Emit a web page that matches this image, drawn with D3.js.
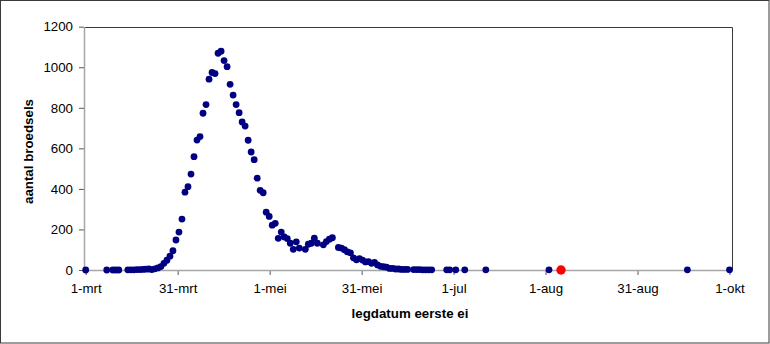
<!DOCTYPE html>
<html>
<head>
<meta charset="utf-8">
<script src="https://cdn.jsdelivr.net/npm/d3@7/dist/d3.min.js"></script>
<style>
  html, body { margin: 0; padding: 0; background: #fff; }
  svg { display: block; }
  text { font-family: "Liberation Sans", Arial, sans-serif; fill: #000; }
</style>
</head>
<body>
<svg id="chart" width="770" height="344"></svg>
<script>
// Days counted from 1 March (day 0) and the number of clutches started that day
const dagen = [0, 7, 9, 10, 11, 14, 15, 16, 17, 18, 19, 20, 21, 22, 23, 24, 25, 26, 27, 28,
  29, 30, 31, 32, 33, 34, 35, 36, 37, 38, 39, 40, 41, 42, 43, 44, 45, 46, 47, 48,
  49, 50, 51, 52, 53, 54, 55, 56, 57, 58, 59, 60, 61, 62, 63, 64, 65, 66, 67, 68,
  69, 70, 71, 73, 74, 75, 76, 77, 79, 80, 81, 82, 84, 85, 86, 87, 88, 89, 90, 91,
  92, 93, 94, 95, 96, 97, 98, 99, 100, 101, 102, 103, 104, 105, 106, 107, 109, 110, 111, 112,
  113, 114, 115, 120, 121, 123, 126, 133, 154, 200, 214];
const broedsels = [0, 0, 0, 0, 0, 1, 1, 1, 2, 2, 3, 4, 5, 2, 6, 10, 17, 33, 48, 68,
  95, 148, 187, 251, 384, 411, 473, 559, 641, 658, 773, 816, 941, 974, 969, 1069, 1079, 1033, 1003, 916,
  863, 816, 776, 730, 710, 640, 582, 544, 453, 393, 381, 285, 264, 221, 230, 156, 187, 163, 155, 132,
  102, 139, 108, 102, 127, 132, 157, 132, 124, 140, 152, 159, 111, 108, 100, 89, 84, 60, 50, 56,
  49, 40, 41, 33, 38, 25, 18, 16, 14, 8, 8, 5, 5, 3, 3, 3, 2, 2, 2, 1,
  1, 1, 1, 1, 1, 1, 1, 1, 1, 1, 1];

// Highlighted clutch
const markeerDag = [158];
const markeerWaarde = [0];

// Axis ticks
const xTickLabels = ["1-mrt", "31-mrt", "1-mei", "31-mei", "1-jul", "1-aug", "31-aug", "1-okt"];
const xEindDag = 214;
const yTicks = [0, 200, 400, 600, 800, 1000, 1200];

const svg = d3.select("#chart");
const W = 770, H = 344;
const plot = { left: 84, right: 732.5, top: 27, bottom: 270 };

const x = d3.scaleLinear().domain([0, xEindDag]).range([85.7, 729.5]);
const y = d3.scaleLinear().domain([0, 1200]).range([plot.bottom, 26.7]);
const xTickDays = xTickLabels.map((_, i) => i * xEindDag / (xTickLabels.length - 1));

// Outer chart border
svg.append("rect")
  .attr("x", 0.5).attr("y", 0.5)
  .attr("width", W - 1.5).attr("height", H - 1.5)
  .attr("fill", "#fff").attr("stroke", "#3a3a3a").attr("stroke-width", 1);

// Plot area frame (top and right)
svg.append("path")
  .attr("d", `M${plot.left},${plot.top + 0.5}H${plot.right}V${plot.bottom}`)
  .attr("fill", "none").attr("stroke", "#3a3a3a").attr("stroke-width", 1);

// Y axis
const yAxis = svg.append("g")
  .attr("transform", `translate(${plot.left},0)`)
  .call(d3.axisLeft(y).tickValues(yTicks).tickSize(5).tickPadding(6).tickFormat(d3.format("d")));
yAxis.select(".domain").remove();
yAxis.selectAll(".tick line").attr("stroke", "#555");
yAxis.selectAll(".tick text")
  .style("font-family", "'Liberation Sans', Arial, sans-serif")
  .style("font-size", "13.3px").attr("fill", "#000");

// X axis
const xAxis = svg.append("g")
  .attr("transform", `translate(0,${plot.bottom})`)
  .call(d3.axisBottom(x).tickValues(xTickDays).tickSize(5).tickPadding(9)
    .tickFormat((d, i) => xTickLabels[i]));
xAxis.select(".domain").remove();
xAxis.selectAll(".tick line").attr("stroke", "#555");
xAxis.selectAll(".tick text")
  .style("font-family", "'Liberation Sans', Arial, sans-serif")
  .style("font-size", "13.3px").attr("fill", "#000");

// Axis lines
svg.append("line")
  .attr("x1", plot.left + 0.5).attr("x2", plot.left + 0.5)
  .attr("y1", plot.top).attr("y2", plot.bottom)
  .attr("stroke", "#a6a6a6").attr("stroke-width", 1.5);
svg.append("line")
  .attr("x1", plot.left).attr("x2", plot.right)
  .attr("y1", plot.bottom + 0.5).attr("y2", plot.bottom + 0.5)
  .attr("stroke", "#a6a6a6").attr("stroke-width", 1.5);

// Axis titles
svg.append("text")
  .attr("x", 410).attr("y", 318)
  .attr("text-anchor", "middle")
  .style("font-size", "13.3px").style("font-weight", "bold")
  .text("legdatum eerste ei");
svg.append("text")
  .attr("transform", "translate(32.5,151.5) rotate(-90)")
  .attr("text-anchor", "middle")
  .style("font-size", "13.3px").style("font-weight", "bold")
  .text("aantal broedsels");

// Data points
const punten = dagen.map((d, i) => ({ dag: d, n: broedsels[i] }));
svg.append("g").selectAll("circle")
  .data(punten)
  .join("circle")
  .attr("cx", d => x(d.dag))
  .attr("cy", d => y(d.n))
  .attr("r", 3.4)
  .attr("fill", "#000080");

svg.append("g").selectAll("circle")
  .data(markeerDag.map((d, i) => ({ dag: d, n: markeerWaarde[i] })))
  .join("circle")
  .attr("cx", d => x(d.dag))
  .attr("cy", d => y(d.n))
  .attr("r", 4.7)
  .attr("fill", "#ff0000");
</script>
</body>
</html>
